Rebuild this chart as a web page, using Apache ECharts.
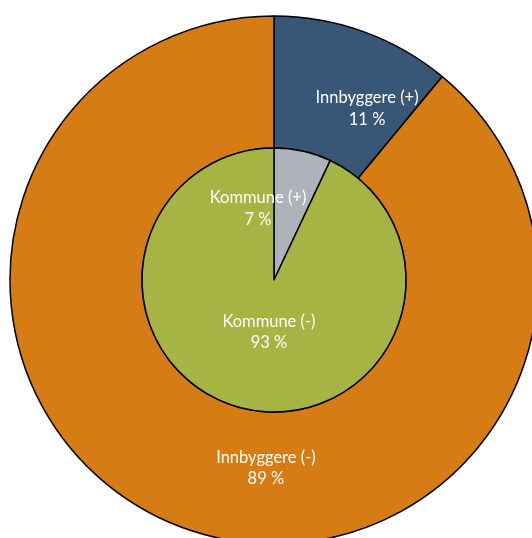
<!DOCTYPE html>
<html><head><meta charset="utf-8">
<script src="https://cdn.jsdelivr.net/npm/echarts@6/dist/echarts.min.js"></script>
<style>html,body{margin:0;padding:0;background:#fff}#c{width:532px;height:538px}</style>
</head><body><div id="c"></div>
<script>
const innerNames = ['Kommune (+)', 'Kommune (-)'];
const innerValues = [7, 93];
const outerNames = ['Innbyggere (+)', 'Innbyggere (-)'];
const outerValues = [11, 89];
const innerColors = ['#AEB3BA', '#A6B443'];
const outerColors = ['#385675', '#D67C15'];
const innerShift = [[-31, -4], [10, -15]];
const outerShift = [[25, 18], [60, -1]];

const chart = echarts.init(document.getElementById('c'), null, {renderer: 'canvas'});
const lbl = {
  show: true, position: 'inside', color: '#fff',
  fontFamily: 'Lato, "Open Sans", sans-serif', fontSize: 16.5, lineHeight: 21.5,
  formatter: p => p.name + '\n' + p.value + ' %'
};
const border = {borderColor: '#000', borderWidth: 1.5};
chart.setOption({
  animation: false,
  series: [
    {
      type: 'pie', center: [274, 280], radius: [132, 264], startAngle: 90, clockwise: true,
      silent: true, label: lbl, labelLine: {show: false},
      data: outerNames.map((n, i) => ({name: n, value: outerValues[i], itemStyle: Object.assign({color: outerColors[i]}, border)})),
      labelLayout: p => ({dx: outerShift[p.dataIndex][0], dy: outerShift[p.dataIndex][1]})
    },
    {
      type: 'pie', center: [274, 280], radius: [0, 132], startAngle: 90, clockwise: true,
      silent: true, label: lbl, labelLine: {show: false},
      data: innerNames.map((n, i) => ({name: n, value: innerValues[i], itemStyle: Object.assign({color: innerColors[i]}, border)})),
      labelLayout: p => ({dx: innerShift[p.dataIndex][0], dy: innerShift[p.dataIndex][1]})
    }
  ]
});
</script></body></html>
